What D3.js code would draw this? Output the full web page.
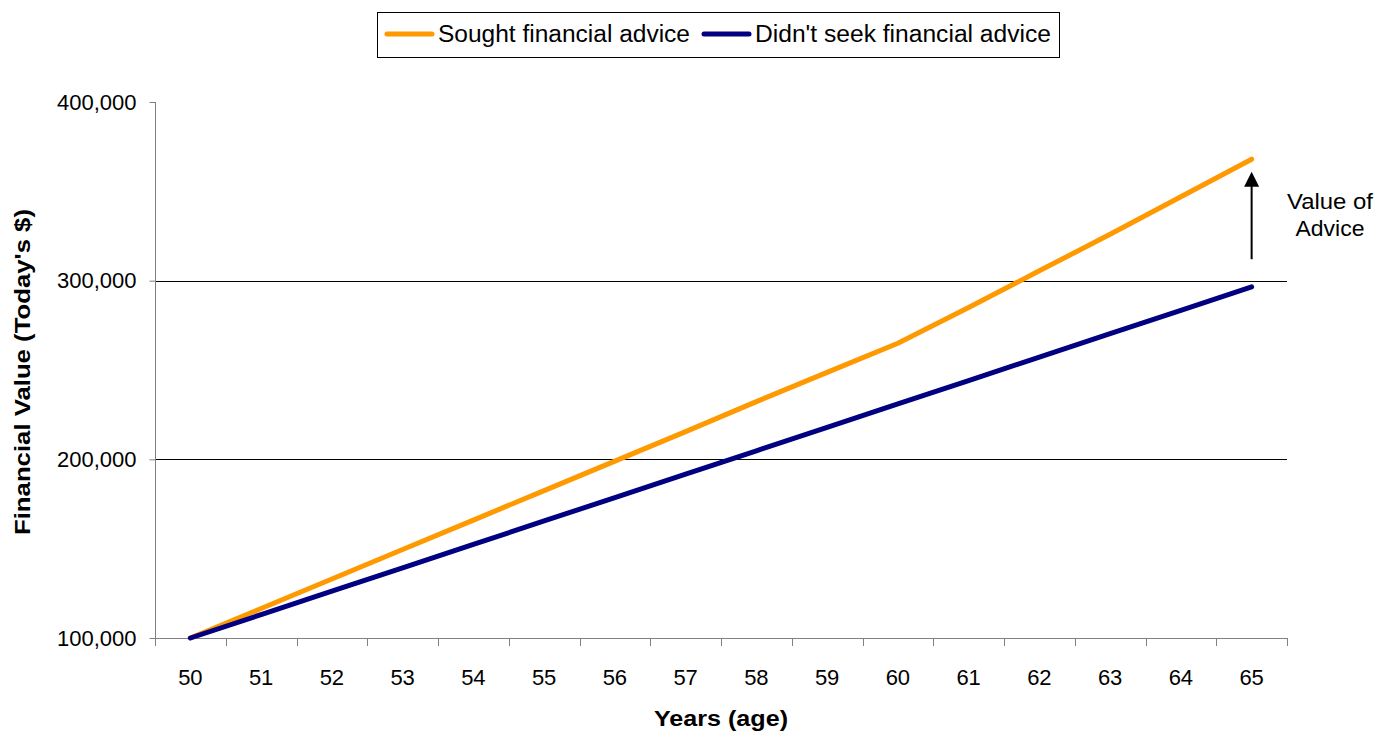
<!DOCTYPE html>
<html>
<head>
<meta charset="utf-8">
<script src="https://cdn.jsdelivr.net/npm/d3@7"></script>
<style>
    body { margin: 0; background: #fff; }
    text { font-family: "Liberation Sans", Arial, sans-serif; }
</style>
</head>
<body>
<div id="chart"></div>
<script>
// chart data
var ages = [50, 51, 52, 53, 54, 55, 56, 57, 58, 59, 60, 61, 62, 63, 64, 65]
var soughtAdvice = [100000, 116500, 133000, 149500, 166000, 182500, 199000, 215500, 232300, 248700, 265000, 285000, 305500, 326000, 347000, 368000]
var noAdvice = [100000, 113100, 126200, 139300, 152400, 165500, 178600, 191700, 204800, 217900, 231000, 244100, 257200, 270300, 283400, 296500]
var yTicks = [100000, 200000, 300000, 400000]
var gridValues = [200000, 300000]
var seriesNames = ["Sought financial advice", "Didn't seek financial advice"]
var seriesColors = ["#ff9900", "#000080"]
var arrowFrom = 312000, arrowTo = 361000

var width = 1376, height = 731
var plotLeft = 155, plotRight = 1287, plotTop = 102, plotBottom = 638

var svg = d3.select("#chart")
    .append("svg")
    .attr("width", width)
    .attr("height", height)

var x = d3.scaleBand()
    .domain(ages)
    .range([plotLeft, plotRight])

var y = d3.scaleLinear()
    .domain([100000, 400000])
    .range([plotBottom, plotTop])

// gridlines
svg.selectAll(".grid")
    .data(gridValues)
    .enter()
    .append("line")
    .attr("x1", plotLeft)
    .attr("x2", plotRight)
    .attr("y1", function (d) { return Math.round(y(d)) + 0.5 })
    .attr("y2", function (d) { return Math.round(y(d)) + 0.5 })
    .attr("stroke", "#000")
    .attr("stroke-width", 1)

// y axis
var yAxis = svg.append("g")
    .attr("transform", "translate(" + (plotLeft + 0.5) + ",0)")
    .call(d3.axisLeft(y).tickValues(yTicks).tickSize(6).tickPadding(13).tickFormat(d3.format(",")))
yAxis.select(".domain").attr("stroke", "#808080").attr("d", "M0," + plotTop + "V" + plotBottom)
yAxis.selectAll(".tick line").attr("stroke", "#808080")
yAxis.selectAll(".tick text")
    .attr("fill", "#000")
    .style("font-size", "22px")
    .style("font-family", "'Liberation Sans', Arial, sans-serif")

// x axis: ticks at band boundaries, labels centered in bands
var xAxis = svg.append("g")
xAxis.append("line")
    .attr("x1", plotLeft)
    .attr("x2", plotRight)
    .attr("y1", plotBottom + 0.5)
    .attr("y2", plotBottom + 0.5)
    .attr("stroke", "#808080")
var bounds = ages.map(function (a) { return x(a) }).concat([plotRight])
xAxis.selectAll(".xtick")
    .data(bounds)
    .enter()
    .append("line")
    .attr("x1", function (d) { return Math.round(d) + 0.5 })
    .attr("x2", function (d) { return Math.round(d) + 0.5 })
    .attr("y1", plotBottom)
    .attr("y2", plotBottom + 8)
    .attr("stroke", "#808080")
xAxis.selectAll(".xlabel")
    .data(ages)
    .enter()
    .append("text")
    .attr("x", function (d) { return x(d) + x.bandwidth() / 2 })
    .attr("y", 685)
    .attr("text-anchor", "middle")
    .style("font-size", "22px")
    .text(function (d) { return d })

// lines
var line = d3.line()
    .x(function (d, i) { return x(ages[i]) + x.bandwidth() / 2 })
    .y(function (d) { return y(d) })

var series = [soughtAdvice, noAdvice]
svg.selectAll(".series")
    .data(series)
    .enter()
    .append("path")
    .attr("d", line)
    .attr("fill", "none")
    .attr("stroke", function (d, i) { return seriesColors[i] })
    .attr("stroke-width", 5)
    .attr("stroke-linecap", "round")
    .attr("stroke-linejoin", "round")

// arrow annotation
var ax = x(65) + x.bandwidth() / 2
var tipY = y(arrowTo)
svg.append("line")
    .attr("x1", ax)
    .attr("x2", ax)
    .attr("y1", y(arrowFrom))
    .attr("y2", tipY + 12)
    .attr("stroke", "#000")
    .attr("stroke-width", 2)
svg.append("path")
    .attr("d", "M" + ax + "," + tipY + "L" + (ax - 7.5) + "," + (tipY + 15) + "L" + (ax + 7.5) + "," + (tipY + 15) + "Z")
    .attr("fill", "#000")
svg.append("text")
    .attr("x", 1330)
    .attr("y", 209)
    .attr("text-anchor", "middle")
    .style("font-size", "22px")
    .attr("textLength", 86)
    .attr("lengthAdjust", "spacingAndGlyphs")
    .text("Value of")
svg.append("text")
    .attr("x", 1330)
    .attr("y", 236)
    .attr("text-anchor", "middle")
    .style("font-size", "22px")
    .attr("textLength", 69)
    .attr("lengthAdjust", "spacingAndGlyphs")
    .text("Advice")

// axis titles
svg.append("text")
    .attr("x", (plotLeft + plotRight) / 2)
    .attr("y", 726)
    .attr("text-anchor", "middle")
    .style("font-size", "22px")
    .style("font-weight", "bold")
    .attr("textLength", 134)
    .attr("lengthAdjust", "spacingAndGlyphs")
    .text("Years (age)")

svg.append("text")
    .attr("transform", "translate(30," + ((plotTop + plotBottom) / 2 + 2) + ") rotate(-90)")
    .attr("text-anchor", "middle")
    .style("font-size", "22px")
    .style("font-weight", "bold")
    .attr("textLength", 326)
    .attr("lengthAdjust", "spacingAndGlyphs")
    .text("Financial Value (Today's $)")

// legend
var legend = svg.append("g")
legend.append("rect")
    .attr("x", 377.5)
    .attr("y", 12.5)
    .attr("width", 682)
    .attr("height", 45)
    .attr("fill", "#fff")
    .attr("stroke", "#000")
var legendItems = [
    { x1: 387, x2: 432, tx: 438, tw: 252 },
    { x1: 704, x2: 749, tx: 755, tw: 296 }
]
legendItems.forEach(function (item, i) {
    legend.append("line")
        .attr("x1", item.x1)
        .attr("x2", item.x2)
        .attr("y1", 34)
        .attr("y2", 34)
        .attr("stroke", seriesColors[i])
        .attr("stroke-width", 5)
        .attr("stroke-linecap", "round")
    legend.append("text")
        .attr("x", item.tx)
        .attr("y", 42)
        .style("font-size", "23px")
        .attr("textLength", item.tw)
        .attr("lengthAdjust", "spacingAndGlyphs")
        .text(seriesNames[i])
})
</script>
</body>
</html>
